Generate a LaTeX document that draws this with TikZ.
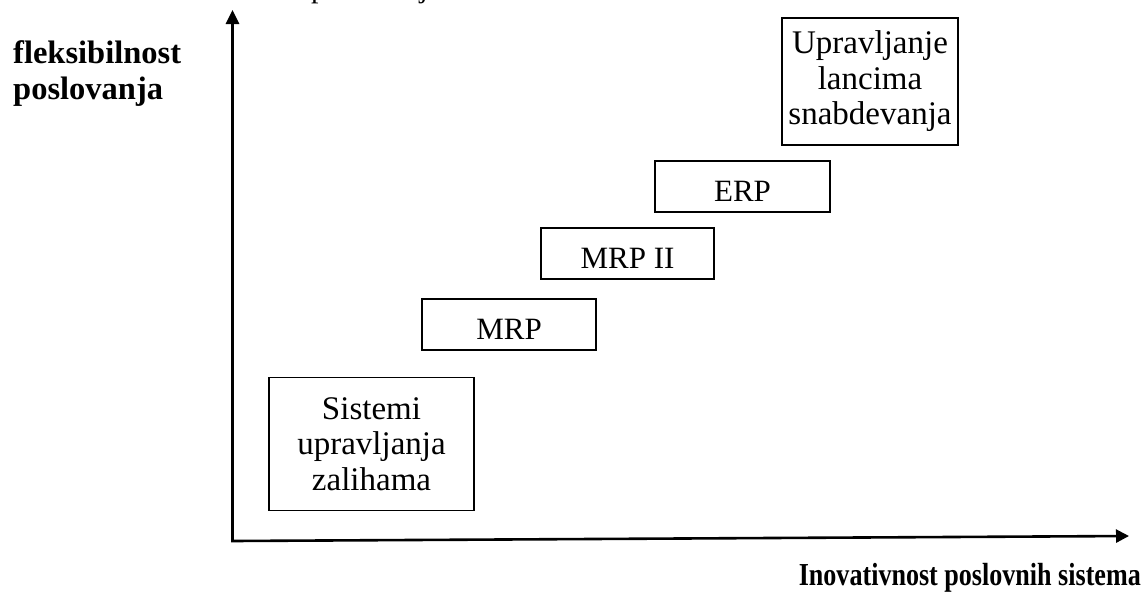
\documentclass[tikz,border=0pt]{standalone}
\usepackage{fontspec}
\setmainfont{Liberation Serif}
\usetikzlibrary{arrows.meta}
\begin{document}
\begin{tikzpicture}[x=1pt,y=-1pt,
  stagebox/.style={draw=black,line width=1.5pt,inner sep=0pt,align=center,
    font=\fontsize{33}{35.5}\selectfont},
  onebox/.style={stagebox,font=\fontsize{31}{35.5}\selectfont,text height=30pt,text depth=0pt},
  axis/.style={line width=2.6pt,line join=miter,{Triangle[length=14pt,width=13pt]}-{Triangle[length=13pt,width=13pt]}},
  axislabel/.style={font=\fontsize{32.5}{36}\selectfont\bfseries,inner sep=0pt,align=left}]
\useasboundingbox (0,0) rectangle (1142,592);
\begin{scope}
\clip (0,0) rectangle (1142,592);
\node[anchor=base west,inner sep=0pt,font=\fontsize{30}{35.5}\selectfont] (toptext) at (311,-2.5) {poslovanja};
\end{scope}
% axes
\coordinate (ytip) at (232.5,10);
\coordinate (origin) at (232.5,541);
\coordinate (xtip) at (1129,536);
\draw[axis] (ytip) -- (origin) -- (xtip);
% boxes
\node[stagebox,minimum width=205pt,minimum height=133pt] (szal) at (371.5,444) {Sistemi\\upravljanja\\zalihama};
\node[onebox,minimum width=174pt,minimum height=51pt] (mrp) at (509,324.5) {MRP};
\node[onebox,minimum width=173pt,minimum height=51pt] (mrp2) at (627.5,253.5) {MRP II};
\node[onebox,minimum width=175pt,minimum height=51pt] (erp) at (742.5,186.5) {ERP};
\node[stagebox,minimum width=176pt,minimum height=127pt] (scm) at (870,81.5) {Upravljanje\\lancima\\snabdevanja};
% axis labels
\node[axislabel,anchor=north west] (ylab) at (13,40) {fleksibilnost\\poslovanja};
\node[anchor=base east,inner sep=0pt,font=\fontsize{32}{36}\selectfont\bfseries] (xlab) at (1141,585) {\scalebox{0.815}[1]{Inovativnost poslovnih sistema}};
\end{tikzpicture}
\end{document}
